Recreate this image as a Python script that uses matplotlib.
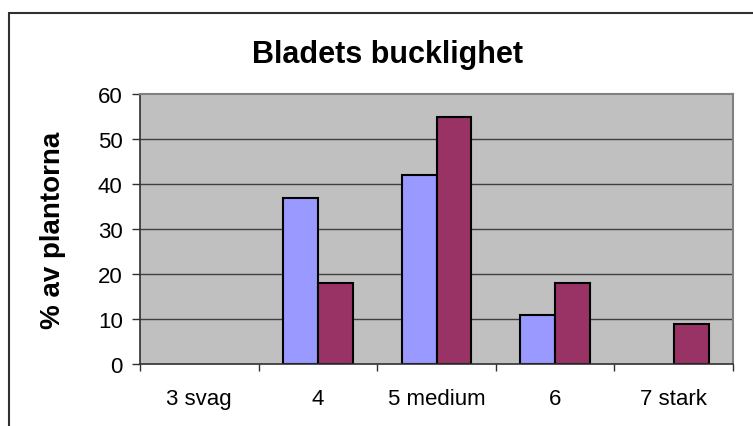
import numpy as np
import matplotlib
matplotlib.use("Agg")
import matplotlib.pyplot as plt
from matplotlib.patches import Rectangle

categories = ['3 svag', '4', '5 medium', '6', '7 stark']
series_a = [0, 37, 42, 11, 0]
series_b = [0, 18, 55, 18, 9]
yticks = [0, 10, 20, 30, 40, 50, 60]

plt.rcParams['font.family'] = ['Liberation Sans', 'DejaVu Sans']

fig = plt.figure(figsize=(7.53, 4.27), dpi=100)
ax = fig.add_axes([140 / 753, 62 / 427, 593 / 753, 270 / 427])
ax.set_facecolor('#c0c0c0')

x = np.arange(len(categories))
w = 0.295
a = np.array(series_a, dtype=float)
b = np.array(series_b, dtype=float)
# empty categories get no bar (avoids an outline stub on the axis)
ka = a > 0
kb = b > 0
ax.bar(x[ka] - w / 2, a[ka], w, color='#9999ff', edgecolor='black', linewidth=1.5, zorder=3)
ax.bar(x[kb] + w / 2, b[kb], w, color='#993366', edgecolor='black', linewidth=1.5, zorder=3)

ax.set_xlim(-0.5, len(categories) - 0.5)
ax.set_ylim(0, 60)
ax.set_yticks(yticks)
ax.tick_params(axis='y', labelsize=16, length=6, width=1, pad=6.5, color='#303030')
ax.set_xticks(x)
ax.set_xticklabels(categories)
ax.set_xticks(np.arange(-0.5, len(categories)), minor=True)
ax.tick_params(axis='x', which='major', length=0, labelsize=16, pad=17)
ax.tick_params(axis='x', which='minor', length=5, width=1, color='#303030')
for v in yticks[1:-1]:
    ax.axhline(v, color='#404040', linewidth=1, zorder=1)

for s in ['top', 'right']:
    ax.spines[s].set_color('#808080')
    ax.spines[s].set_linewidth(1.5)
for s in ['left', 'bottom']:
    ax.spines[s].set_color('#303030')
    ax.spines[s].set_linewidth(1.2)
ax.spines['bottom'].set_zorder(4)

ax.set_ylabel('% av plantorna', fontsize=20, fontweight='bold')
ax.yaxis.set_label_coords(-74 / 593, 0.5)
fig.text(388 / 753, 1 - 55 / 427, 'Bladets bucklighet', fontsize=22, fontweight='bold',
         ha='center', va='center')

# outer chart frame (runs off the right and bottom edge)
fig.patches.append(Rectangle((9 / 753, -0.2), 1.2, 1 - 14 / 427 + 0.2,
                             transform=fig.transFigure, fill=False,
                             edgecolor='#303030', linewidth=1.5))

fig.savefig('out.png', dpi=100)
